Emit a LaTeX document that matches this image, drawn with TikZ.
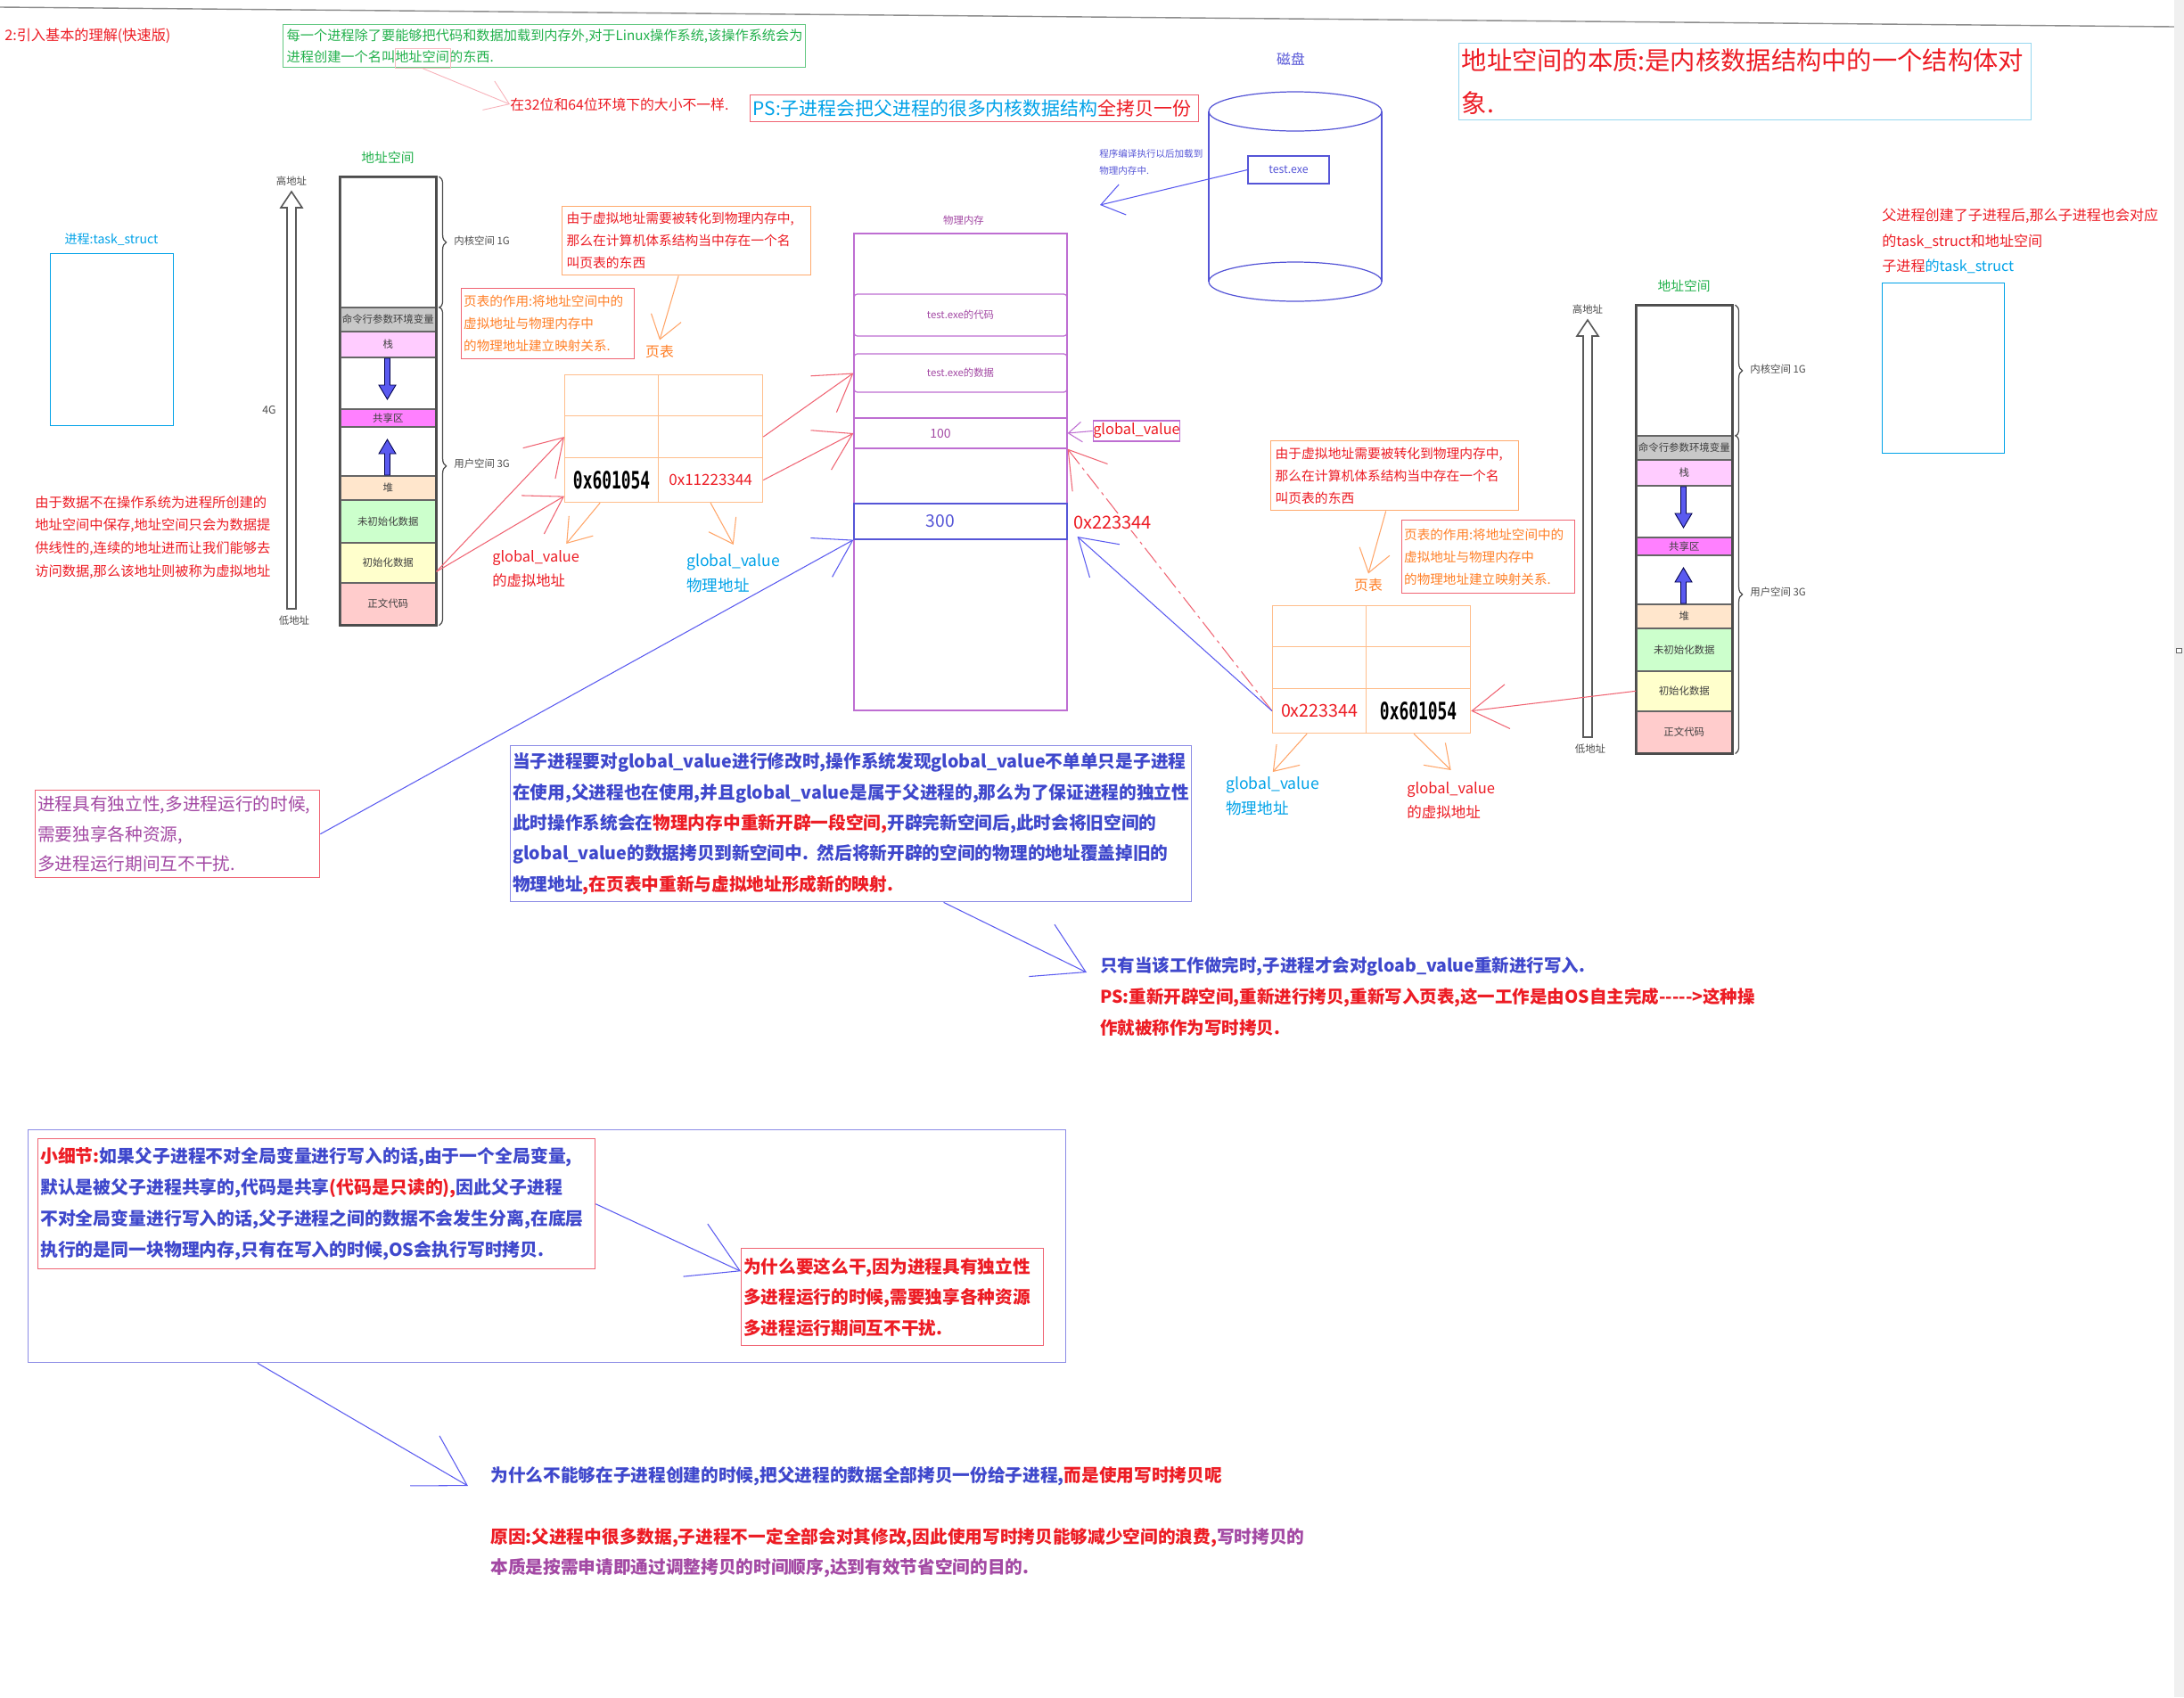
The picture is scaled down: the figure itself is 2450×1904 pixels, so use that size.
\documentclass[tikz,border=0pt]{standalone}
\usepackage{graphicx}
\usepackage{fontspec}
\setmainfont{Noto Sans CJK SC}
\newfontfamily\ptmono{DejaVu Sans Mono}
\usetikzlibrary{arrows.meta,decorations.pathreplacing}

\newcommand{\setfs}[2]{\fontsize{#1pt}{#2pt}\selectfont}
\newcommand{\pxu}{0.02cm}
\newcommand{\monoaddr}[1]{\scalebox{1}[1.5]{\ptmono\bfseries\setfs{10.2}{12}#1}}

\definecolor{txtRed}{RGB}{237,28,36}
\definecolor{txtBlue}{RGB}{63,72,204}
\definecolor{skyBlue}{RGB}{0,162,232}
\definecolor{leafGreen}{RGB}{34,177,76}
\definecolor{tOrange}{RGB}{255,127,39}
\definecolor{tPurple}{RGB}{163,73,164}
\definecolor{pmPurple}{RGB}{190,110,210}
\definecolor{ptOrange}{RGB}{255,190,140}
\definecolor{noteOrange}{RGB}{255,170,110}
\definecolor{pinkLine}{RGB}{240,100,115}
\definecolor{boxSky}{RGB}{150,215,240}
\definecolor{diskBlue}{RGB}{85,85,215}
\definecolor{frameBlue}{RGB}{140,140,230}
\definecolor{arrowBlue}{RGB}{90,90,240}
\definecolor{segCmd}{RGB}{200,200,200}
\definecolor{segStack}{RGB}{255,204,255}
\definecolor{segShare}{RGB}{255,128,255}
\definecolor{segHeap}{RGB}{255,230,204}
\definecolor{segBss}{RGB}{204,255,204}
\definecolor{segInit}{RGB}{255,255,204}
\definecolor{segText}{RGB}{255,204,204}

% one process address space column, #1 name prefix, #2 top-left corner
\newcommand{\addrspace}[2]{%
\begin{scope}[shift={#2}]
  \node[AsTitle] (#1-title) at (54,-21) {地址空间};
  \node[AsSeg, minimum height=146*\pxu] (#1-kern) at (0,0) {};
  \node[AsSeg, fill=segCmd, minimum height=27*\pxu] (#1-cmd) at (0,146) {命令行参数环境变量};
  \node[AsSeg, fill=segStack, minimum height=29*\pxu] (#1-stack) at (0,173) {栈};
  \node[AsSeg, minimum height=58*\pxu] (#1-gapd) at (0,202) {};
  \node[AsSeg, fill=segShare, minimum height=20*\pxu] (#1-share) at (0,260) {共享区};
  \node[AsSeg, minimum height=55*\pxu] (#1-gapu) at (0,280) {};
  \node[AsSeg, fill=segHeap, minimum height=27*\pxu] (#1-heap) at (0,335) {堆};
  \node[AsSeg, fill=segBss, minimum height=48*\pxu] (#1-bss) at (0,362) {未初始化数据};
  \node[AsSeg, fill=segInit, minimum height=45*\pxu] (#1-init) at (0,410) {初始化数据};
  \node[AsSeg, fill=segText, minimum height=47*\pxu] (#1-text) at (0,455) {正文代码};
  \draw[AsFrame] (#1-kern.north west) rectangle (#1-text.south east);
  % stack grows down, heap grows up
  \filldraw[FatArrow] (50.5,204) -- (56.5,204) -- (56.5,234) -- (63,234) -- (53.5,250) -- (44,234) -- (50.5,234) -- cycle;
  \filldraw[FatArrow] (50.5,335) -- (56.5,335) -- (56.5,311) -- (63,311) -- (53.5,295) -- (44,311) -- (50.5,311) -- cycle;
  % high / low address
  \filldraw[HollowArrow] (-59,485) -- (-59,35) -- (-66,35) -- (-54,17) -- (-42,35) -- (-49,35) -- (-49,485) -- cycle;
  \node[AsNote] (#1-high) at (-54,5) {高地址};
  \node[AsNote] (#1-low) at (-51,498) {低地址};
  \draw[AsBrace] ([xshift=3*\pxu]#1-kern.north east) -- ([xshift=3*\pxu]#1-kern.south east);
  \draw[AsBrace] ([xshift=3*\pxu]#1-cmd.north east) -- ([xshift=3*\pxu]#1-text.south east);
  \node[AsNote, anchor=west] (#1-kernlbl) at (128,72) {内核空间 1G};
  \node[AsNote, anchor=west] (#1-userlbl) at (128,322) {用户空间 3G};
\end{scope}}

% page table grid, #1 prefix, #2 top-left, #3 #4 last row
\newcommand{\pagetable}[4]{%
\begin{scope}[shift={#2}]
  \node[PtCell, minimum width=105*\pxu, minimum height=46*\pxu] (#1-11) at (0,0) {};
  \node[PtCell, minimum width=117*\pxu, minimum height=46*\pxu] (#1-12) at (105,0) {};
  \node[PtCell, minimum width=105*\pxu, minimum height=47*\pxu] (#1-21) at (0,46) {};
  \node[PtCell, minimum width=117*\pxu, minimum height=47*\pxu] (#1-22) at (105,46) {};
  \node[PtCell, minimum width=105*\pxu, minimum height=50*\pxu] (#1-31) at (0,93) {#3};
  \node[PtCell, minimum width=117*\pxu, minimum height=50*\pxu] (#1-32) at (105,93) {#4};
\end{scope}}

\begin{document}
\begin{tikzpicture}[x=0.02cm, y=-0.02cm]
  \tikzset{
    Txt/.style={inner sep=0pt, align=left, anchor=north west},
    NoteBox/.style={anchor=north west, align=left, inner ysep=0pt, line width=0.8pt},
    TaskBox/.style={draw=skyBlue, line width=0.8pt, anchor=north west, inner sep=0pt},
    AsTitle/.style={text=leafGreen, font=\setfs{8.4}{10}},
    AsSeg/.style={draw=black!60, line width=0.9pt, anchor=north west, inner sep=0pt,
      minimum width=107*\pxu, text=black!75, font=\setfs{6.5}{8}},
    AsFrame/.style={draw=black!70, line width=1.3pt},
    AsNote/.style={inner sep=0pt, text=black!70, font=\setfs{6.5}{8}},
    AsBrace/.style={decorate, decoration={brace, amplitude=0.16cm}, draw=black!70, line width=0.7pt},
    FatArrow/.style={fill=arrowBlue, draw=black!70!blue, line width=0.5pt},
    HollowArrow/.style={fill=white, draw=black!65, line width=0.9pt},
    PtCell/.style={draw=ptOrange, line width=0.7pt, anchor=north west, inner sep=0pt},
    PmBlock/.style={draw=pmPurple, line width=0.7pt, minimum width=4.78cm, inner sep=0pt,
      text=tPurple, font=\setfs{6.5}{8}},
    BarbBig/.style={-{Straight Barb[length=1.1cm, width=1.3cm]}},
    BarbMid/.style={-{Straight Barb[length=0.8cm, width=1cm]}},
    BarbSmall/.style={-{Straight Barb[length=0.5cm, width=0.7cm]}},
    BarbTiny/.style={-{Straight Barb[length=0.3cm, width=0.45cm]}},
    RedArrow/.style={draw=pinkLine, line width=0.6pt, BarbMid},
    BlueArrow/.style={draw=arrowBlue, line width=0.6pt, BarbMid},
    OrangeArrow/.style={draw=tOrange!70, line width=0.6pt, BarbSmall},
  }
  \path[fill=white] (0,0) rectangle (2450,1904);
  \useasboundingbox (0,0) rectangle (2450,1904);
  \draw[black!45, line width=0.8pt] (0,8) -- (2439,30);
  \fill[black!6] (2439,0) rectangle (2450,1904);
  \node[draw=black!60, fill=white, inner sep=0pt, minimum width=0.12cm, minimum height=0.1cm] (scrollMark) at (2444,730) {};

  % top notes
  \node[Txt, text=txtRed, font=\setfs{9.2}{11}] (title) at (5,31) {2:引入基本的理解(快速版)};
  \node[NoteBox, draw=leafGreen!70, text=leafGreen, text width=11.56cm, inner xsep=0.08cm,
    minimum height=48*\pxu, font=\setfs{8.65}{14}] (introNote) at (317,27)
    {每一个进程除了要能够把代码和数据加载到内存外,对于Linux操作系统,该操作系统会为\\进程创建一个名叫地址空间的东西.};
  \node[draw=pinkLine!45, line width=0.5pt, inner sep=0pt, minimum width=62*\pxu, minimum height=22*\pxu,
    anchor=north west] (addrHL) at (443,54) {};
  \node[Txt, anchor=west, text=txtRed, font=\setfs{9}{11}] (sizeNote) at (572,117) {在32位和64位环境下的大小不一样.};
  \draw[draw=pinkLine!50, line width=0.5pt, BarbSmall] (addrHL.south) -- (sizeNote.west);
  \node[NoteBox, draw=pinkLine, text=txtRed, text width=9.94cm, inner xsep=0.06cm,
    minimum height=30*\pxu, font=\setfs{11.9}{13}] (psNote) at (841,106)
    {\textcolor{skyBlue}{PS:子进程会把父进程的很多内核数据结构}全拷贝一份};
  \node[NoteBox, draw=boxSky, text=txtRed, text width=12.72cm, inner xsep=0.06cm,
    minimum height=86*\pxu, font=\setfs{16.1}{27}] (essence) at (1636,48)
    {地址空间的本质:是内核数据结构中的一个结构体对\\象.};

  % disk
  \node[text=diskBlue, font=\setfs{9}{11}] (diskLabel) at (1448,66) {磁盘};
  \draw[diskBlue, line width=0.7pt] (1356,125) -- (1356,316) (1550,125) -- (1550,316);
  \draw[diskBlue, line width=0.7pt] (1453,125) ellipse [x radius=1.94cm, y radius=0.44cm];
  \draw[diskBlue, line width=0.7pt] (1453,316) ellipse [x radius=1.94cm, y radius=0.44cm];
  \node[draw=diskBlue, line width=0.7pt, minimum width=1.82cm, minimum height=0.62cm, inner sep=0pt,
    text=diskBlue, font=\setfs{7}{8}] (testexe) at (1445.5,190.5) {test.exe};
  \node[Txt, text=diskBlue, font=\setfs{6}{10.8}] (loadNote) at (1233,167) {程序编译执行以后加载到\\物理内存中.};
  \coordinate (loadTip) at (1234,230);
  \draw[BlueArrow, BarbSmall] (testexe.west) -- (loadTip);

  % task_struct boxes
  \node[text=skyBlue, font=\setfs{8}{10}] (parentLabel) at (125,269) {进程:task\_struct};
  \node[TaskBox, minimum width=2.76cm, minimum height=3.86cm] (parentTask) at (56,284) {};
  \node[Txt, text=txtRed, font=\setfs{9.15}{16}] (childNote) at (2111,234)
    {父进程创建了子进程后,那么子进程也会对应\\的task\_struct和地址空间\\子进程\textcolor{skyBlue}{的task\_struct}};
  \node[TaskBox, minimum width=2.74cm, minimum height=3.82cm] (childTask) at (2111,317) {};

  % address spaces
  \addrspace{lAS}{(381,198)}
  \addrspace{rAS}{(1835,342)}
  \node[AsNote, font=\setfs{7}{8}] (sizeLabel) at (302,460) {4G};
  \node[Txt, text=txtRed, font=\setfs{8.7}{14.6}] (dataNote) at (39,556)
    {由于数据不在操作系统为进程所创建的\\地址空间中保存,地址空间只会为数据提\\供线性的,连续的地址进而让我们能够去\\访问数据,那么该地址则被称为虚拟地址};

  % parent page table
  \node[NoteBox, draw=noteOrange, text=txtRed, text width=5.38cm, inner xsep=0.1cm,
    minimum height=77*\pxu, font=\setfs{8.4}{14.2}] (ptNoteL) at (630,231)
    {由于虚拟地址需要被转化到物理内存中,\\那么在计算机体系结构当中存在一个名\\叫页表的东西};
  \node[NoteBox, draw=pinkLine, text=tOrange, text width=3.78cm, inner xsep=0.05cm,
    minimum height=79*\pxu, font=\setfs{8.3}{14.2}] (ptRoleL) at (517,323)
    {页表的作用:将地址空间中的\\虚拟地址与物理内存中\\的物理地址建立映射关系.};
  \node[text=tOrange, font=\setfs{9}{11}] (ptLabelL) at (740,395) {页表};
  \draw[OrangeArrow] ([xshift=-0.18cm]ptNoteL.south) -- (ptLabelL.north);
  \pagetable{ptL}{(633,420)}{\monoaddr{0x601054}}{\textcolor{txtRed}{\setfs{9.7}{11}0x11223344}}
  \node[Txt, text=txtRed, font=\setfs{9.3}{15.3}] (lVirt) at (552,617) {global\_value\\的虚拟地址};
  \node[Txt, text=skyBlue, font=\setfs{10}{15.9}] (lPhys) at (770,621) {global\_value\\物理地址};
  \draw[OrangeArrow] ([xshift=-0.26cm]ptL-31.south) -- ([xshift=-0.3cm, yshift=0.14cm]lVirt.north east);
  \draw[OrangeArrow] (ptL-32.south) -- ([yshift=0.2cm]lPhys.north);
  \draw[RedArrow] ([yshift=-0.2cm]lAS-init.east) -- (ptL-21.west);
  \draw[RedArrow] ([yshift=-0.2cm]lAS-init.east) -- ([yshift=-0.36cm]ptL-31.west);

  % physical memory
  \node[text=tPurple, font=\setfs{6.5}{8}] (pmLabel) at (1081,247) {物理内存};
  \node[draw=pmPurple, line width=0.8pt, minimum width=4.78cm, minimum height=10.7cm, inner sep=0pt] (pm) at (1077.5,529.5) {};
  \node[PmBlock, rounded corners=2pt, minimum height=0.94cm] (pmCode) at (1077.5,353.5) {test.exe的代码};
  \node[PmBlock, rounded corners=2pt, minimum height=0.86cm] (pmData) at (1077.5,418.5) {test.exe的数据};
  \node[PmBlock, minimum height=0.68cm, font=\setfs{8}{9}] (pmVal) at (1077.5,486) {100\hspace*{0.9cm}};
  \node[PmBlock, draw=diskBlue, text=diskBlue, minimum height=0.8cm, font=\setfs{11}{12}] (pmNew) at (1077.5,585) {300\hspace*{0.9cm}};
  \draw[RedArrow] (ptL-22.east) -- (pmData.west);
  \draw[RedArrow] (ptL-32.east) -- (pmVal.west);
  \node[draw=pmPurple, line width=0.6pt, text=txtRed, inner sep=0pt, minimum width=1.88cm, minimum height=0.46cm,
    font=\setfs{9.3}{10}] (gvBox) at (1275,483.5) {global\_value};
  \draw[draw=pmPurple, line width=0.6pt, BarbTiny] (gvBox.west) -- (pmVal.east);

  % child page table
  \node[NoteBox, draw=noteOrange, text=txtRed, text width=5.36cm, inner xsep=0.1cm,
    minimum height=78*\pxu, font=\setfs{8.4}{14.2}] (ptNoteR) at (1425,494)
    {由于虚拟地址需要被转化到物理内存中,\\那么在计算机体系结构当中存在一个名\\叫页表的东西};
  \node[NoteBox, draw=pinkLine, text=tOrange, text width=3.78cm, inner xsep=0.05cm,
    minimum height=82*\pxu, font=\setfs{8.3}{14.2}] (ptRoleR) at (1572,583)
    {页表的作用:将地址空间中的\\虚拟地址与物理内存中\\的物理地址建立映射关系.};
  \node[text=tOrange, font=\setfs{9}{11}] (ptLabelR) at (1535,657) {页表};
  \draw[OrangeArrow] ([xshift=-0.2cm]ptNoteR.south) -- (ptLabelR.north);
  \pagetable{ptR}{(1427,679)}{\textcolor{txtRed}{\setfs{11.2}{12}0x223344}}{\monoaddr{0x601054}}
  \node[Txt, text=skyBlue, font=\setfs{10}{15.9}] (rPhys) at (1375,871) {global\_value\\物理地址};
  \node[Txt, text=txtRed, font=\setfs{9.4}{15.3}] (rVirt) at (1578,877) {global\_value\\的虚拟地址};
  \draw[OrangeArrow] ([xshift=-0.28cm]ptR-31.south) -- ([yshift=0.1cm]rPhys.north);
  \draw[OrangeArrow] ([xshift=-0.1cm]ptR-32.south) -- ([yshift=0.26cm]rVirt.north);
  \draw[RedArrow] (rAS-init.west) -- (ptR-32.east);
  \draw[RedArrow, dash pattern=on 12pt off 3pt on 2pt off 3pt] (ptR-31.west) -- (pmVal.south east);
  \draw[BlueArrow] (ptR-31.west) -- ([xshift=0.22cm, yshift=-0.34cm]pmNew.east);
  \node[inner sep=1pt, fill=white, anchor=west, text=txtRed, font=\setfs{11.4}{12}] (newAddr) at (1202,586) {0x223344};

  % copy on write explanation
  \node[NoteBox, draw=pinkLine, text=tPurple, text width=6.28cm, inner xsep=0.05cm,
    minimum height=98*\pxu, font=\setfs{11.2}{19}] (indepNote) at (39,886)
    {进程具有独立性,多进程运行的时候,\\需要独享各种资源,\\多进程运行期间互不干扰.};
  \draw[BlueArrow] (indepNote.east) -- (pmNew.south west);
  \node[NoteBox, draw=frameBlue, text=txtBlue, text width=15.18cm, inner xsep=0.05cm,
    minimum height=175*\pxu, font=\bfseries\setfs{11.2}{19.6}] (cowNote) at (572,836)
    {当子进程要对global\_value进行修改时,操作系统发现global\_value不单单只是子进程\\
     在使用,父进程也在使用,并且global\_value是属于父进程的,那么为了保证进程的独立性\\
     此时操作系统会在\textcolor{txtRed}{物理内存中重新开辟一段空间,}开辟完新空间后,此时会将旧空间的\\
     global\_value的数据拷贝到新空间中. 然后将新开辟的空间的物理的地址覆盖掉旧的\\
     物理地址\textcolor{txtRed}{,在页表中重新与虚拟地址形成新的映射.}};
  \node[Txt, text=txtBlue, font=\bfseries\setfs{11.1}{20}] (onlyNote) at (1234,1073)
    {只有当该工作做完时,子进程才会对gloab\_value重新进行写入.\\
     \textcolor{txtRed}{PS:重新开辟空间,重新进行拷贝,重新写入页表,这一工作是由OS自主完成-{}-{}-{}-{}->这种操}\\
     \textcolor{txtRed}{作就被称作为写时拷贝.}};
  \draw[BlueArrow, BarbBig] ([xshift=2.08cm]cowNote.south) -- ([xshift=-0.3cm, yshift=-0.36cm]onlyNote.north west);

  % small detail
  \node[draw=frameBlue, line width=0.8pt, inner sep=0pt, minimum width=23.28cm, minimum height=5.22cm,
    anchor=north west] (outerFrame) at (31,1267) {};
  \node[NoteBox, draw=pinkLine, text=txtBlue, text width=12.4cm, inner xsep=0.05cm,
    minimum height=146*\pxu, font=\bfseries\setfs{11.3}{19.8}] (detailNote) at (42,1277)
    {\textcolor{txtRed}{小细节:}如果父子进程不对全局变量进行写入的话,由于一个全局变量,\\
     默认是被父子进程共享的,代码是共享\textcolor{txtRed}{(代码是只读的),}因此父子进程\\
     不对全局变量进行写入的话,父子进程之间的数据不会发生分离,在底层\\
     执行的是同一块物理内存,只有在写入的时候,OS会执行写时拷贝.};
  \node[NoteBox, draw=pinkLine, text=txtRed, text width=6.68cm, inner xsep=0.05cm,
    minimum height=109*\pxu, font=\bfseries\setfs{11.2}{19.6}] (whyNote) at (831,1400)
    {为什么要这么干,因为进程具有独立性\\多进程运行的时候,需要独享各种资源\\多进程运行期间互不干扰.};
  \draw[BlueArrow, BarbBig] (detailNote.east) -- ([yshift=0.58cm]whyNote.west);
  \node[Txt, text=txtBlue, font=\bfseries\setfs{11.2}{20}] (questionNote) at (550,1645)
    {为什么不能够在子进程创建的时候,把父进程的数据全部拷贝一份给子进程,\textcolor{txtRed}{而是使用写时拷贝呢}};
  \node[Txt, text=txtRed, font=\bfseries\setfs{11.2}{19.5}] (reasonNote) at (550,1714)
    {原因:父进程中很多数据,子进程不一定全部会对其修改,因此使用写时拷贝能够减少空间的浪费,\textcolor{tPurple}{写时拷贝的}\\
     \textcolor{tPurple}{本质是按需申请即通过调整拷贝的时间顺序,达到有效节省空间的目的.}};
  \draw[BlueArrow, BarbBig] ([xshift=5.16cm]outerFrame.south west) -- ([xshift=-0.5cm, yshift=-0.22cm]questionNote.west);
\end{tikzpicture}
\end{document}
